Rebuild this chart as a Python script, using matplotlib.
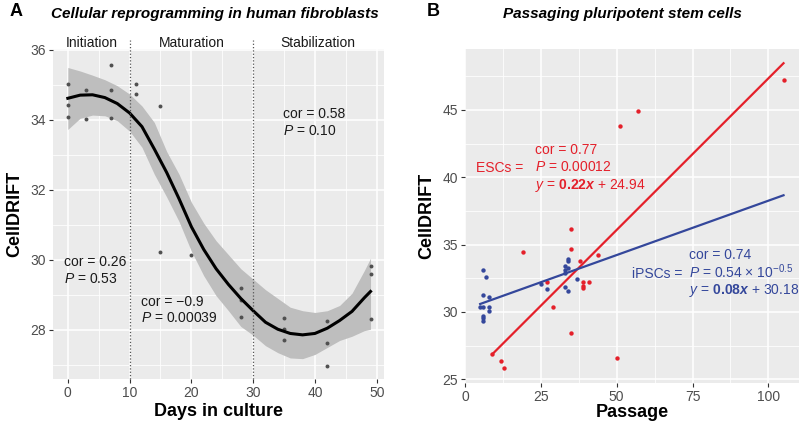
import numpy as np
import matplotlib
matplotlib.use("Agg")
import matplotlib.pyplot as plt

plt.rcParams['font.family'] = ['Liberation Sans', 'DejaVu Sans']
plt.rcParams['mathtext.fontset'] = 'custom'
plt.rcParams['mathtext.rm'] = 'Liberation Sans'
plt.rcParams['mathtext.it'] = 'Liberation Sans:italic'
plt.rcParams['mathtext.bf'] = 'Liberation Sans:bold'
plt.rcParams['mathtext.bfit'] = 'Liberation Sans:bold:italic'

# ---- panel A data: reprogramming time course ----
days = [0, 0, 0, 3, 3, 7, 7, 7, 11, 11, 15, 15, 20, 28, 28, 28,
        35, 35, 35, 42, 42, 42, 49, 49, 49]
drift_a = [35.03, 34.43, 34.09, 34.85, 34.03, 35.57, 34.86, 34.05, 35.03, 34.74,
           34.41, 30.24, 30.13, 29.19, 28.86, 28.37, 28.35, 28.03, 27.71,
           28.27, 27.62, 26.98, 29.83, 29.61, 28.31]

# loess fit
fit_day = [0, 2, 4, 6, 8, 10, 12, 14, 16, 18, 20, 22, 24, 26, 28, 30,
           32, 34, 36, 38, 40, 42, 44, 46, 48, 49]
fit_mid = [34.62, 34.71, 34.72, 34.64, 34.47, 34.20, 33.81, 33.17, 32.50, 31.75,
           30.95, 30.30, 29.75, 29.30, 28.90, 28.55, 28.22, 28.02, 27.90, 27.86,
           27.90, 28.05, 28.27, 28.53, 28.92, 29.10]
fit_hi = [35.50, 35.40, 35.28, 35.15, 34.98, 34.74, 34.40, 33.93, 33.10, 32.45,
          31.65, 31.05, 30.55, 30.15, 29.75, 29.45, 29.15, 28.90, 28.65, 28.55,
          28.50, 28.55, 28.70, 29.05, 29.70, 30.05]
fit_lo = [33.73, 34.05, 34.14, 34.12, 33.98, 33.68, 33.22, 32.45, 31.80, 31.10,
          30.25, 29.55, 28.98, 28.55, 28.10, 27.85, 27.55, 27.35, 27.20, 27.18,
          27.30, 27.50, 27.70, 27.82, 27.98, 28.02]

phases = ['Initiation', 'Maturation', 'Stabilization']
phase_breaks = [10, 30]

# ---- panel B data: passaging ----
esc_passage = [9, 12, 13, 19, 27, 29, 35, 35, 35, 38, 39, 41, 39, 39, 44, 50, 51, 57, 105]
esc_drift = [26.86, 26.34, 25.86, 34.43, 32.22, 30.39, 36.14, 34.67, 28.41, 33.76,
             32.22, 32.22, 31.93, 31.78, 34.25, 26.56, 43.80, 44.92, 47.22]
ipsc_passage = [6, 7, 6, 8, 5, 6, 8, 8, 6, 6, 6, 25, 27, 33, 34, 34, 34, 33, 33, 37, 33, 34]
ipsc_drift = [33.11, 32.62, 31.24, 31.09, 30.35, 30.35, 30.35, 30.10, 29.70, 29.53, 29.33,
              32.07, 31.73, 33.41, 33.29, 33.91, 33.78, 33.10, 32.90, 32.42, 31.83, 31.58]

esc_fit = (0.225, 24.84)    # slope, intercept
ipsc_fit = (0.0807, 30.19)
esc_range = (9, 105)
ipsc_range = (5, 105)

RED = '#E4202A'
BLUE = '#34479B'
BG = '#EBEBEB'


def gg_style(ax):
    ax.set_facecolor(BG)
    for s in ax.spines.values():
        s.set_visible(False)
    ax.grid(which='major', color='white', lw=1.1)
    ax.grid(which='minor', color='white', lw=0.55)
    ax.set_axisbelow(True)
    ax.tick_params(which='major', length=3, width=0.8, color='#333333',
                   labelcolor='#4D4D4D', labelsize=10, pad=2)
    ax.tick_params(which='minor', length=0)


fig = plt.figure(figsize=(8, 4.22), dpi=100)
W, H = 800, 422
axA = fig.add_axes([53 / W, (H - 379.3) / H, (383.5 - 53) / W, (379.3 - 49.3) / H])
axB = fig.add_axes([465 / W, (H - 382.7) / H, (798.7 - 465) / W, (382.7 - 48.6) / H])

# ---------- panel A ----------
gg_style(axA)
axA.set_xlim(-2.4, 51.1)
axA.set_ylim(26.59, 36.02)
axA.set_xticks([0, 10, 20, 30, 40, 50])
axA.set_xticks([5, 15, 25, 35, 45], minor=True)
axA.set_yticks([28, 30, 32, 34, 36])
axA.set_yticks([27, 29, 31, 33, 35], minor=True)

axA.fill_between(fit_day, fit_lo, fit_hi, color='#BEBEBE', lw=0, zorder=2)
axA.scatter(days, drift_a, s=8, color='#505050', lw=0, zorder=3)
axA.plot(fit_day, fit_mid, color='black', lw=2.2, zorder=4)

for b in phase_breaks:
    axA.plot([b, b], [0, 1.028], transform=axA.get_xaxis_transform(),
             color='#555555', ls=':', lw=0.9, clip_on=False, zorder=5)
edges = [axA.get_xlim()[0]] + phase_breaks + [axA.get_xlim()[1]]
for i, name in enumerate(phases):
    axA.text((edges[i] + edges[i + 1]) / 2, 1.02, name, transform=axA.get_xaxis_transform(),
             ha='center', va='center', fontsize=10, color='#1a1a1a')

axA.text(-0.6, 29.93, 'cor = 0.26', fontsize=10, va='center', ha='left', color='#1a1a1a')
axA.text(-0.6, 29.45, '$P$ = 0.53', fontsize=10, va='center', ha='left', color='#1a1a1a')
axA.text(11.9, 28.81, 'cor = \u22120.9', fontsize=10, va='center', ha='left', color='#1a1a1a')
axA.text(11.9, 28.33, '$P$ = 0.00039', fontsize=10, va='center', ha='left', color='#1a1a1a')
axA.text(34.8, 34.16, 'cor = 0.58', fontsize=10, va='center', ha='left', color='#1a1a1a')
axA.text(34.8, 33.69, '$P$ = 0.10', fontsize=10, va='center', ha='left', color='#1a1a1a')

axA.set_xlabel('Days in culture', fontsize=13, fontweight='bold', labelpad=2)
axA.set_ylabel('CellDRIFT', fontsize=13, fontweight='bold', labelpad=5)
fig.text(10 / W, 1 - 12 / H, 'A', fontsize=13, fontweight='bold', va='center', ha='left')
fig.text(215 / W, 1 - 14 / H, 'Cellular reprogramming in human fibroblasts',
         fontsize=11, fontweight='bold', fontstyle='italic', ha='center', va='center')

# ---------- panel B ----------
gg_style(axB)
axB.set_xlim(0, 110)
axB.set_ylim(24.75, 49.55)
axB.set_xticks([0, 25, 50, 75, 100])
axB.set_xticks([12.5, 37.5, 62.5, 87.5], minor=True)
axB.set_yticks([25, 30, 35, 40, 45])
axB.set_yticks([27.5, 32.5, 37.5, 42.5, 47.5], minor=True)

axB.scatter(ipsc_passage, ipsc_drift, s=10, color=BLUE, lw=0, zorder=3)
axB.scatter(esc_passage, esc_drift, s=10, color=RED, lw=0, zorder=3)
xe = np.array(esc_range)
xi = np.array(ipsc_range)
axB.plot(xe, esc_fit[0] * xe + esc_fit[1], color=RED, lw=1.6, zorder=4)
axB.plot(xi, ipsc_fit[0] * xi + ipsc_fit[1], color=BLUE, lw=1.6, zorder=4)

axB.text(23.0, 42.04, 'cor = 0.77', fontsize=10, color=RED, va='center')
axB.text(23.0, 40.78, '$P$ = 0.00012', fontsize=10, color=RED, va='center')
axB.text(23.0, 39.42, r'$y$ = $\mathbf{0.22}\mathbfit{x}$ + 24.94', fontsize=10, color=RED, va='center')
axB.text(19.3, 40.69, 'ESCs =', fontsize=10, color=RED, va='center', ha='right')

axB.text(74.0, 34.23, 'cor = 0.74', fontsize=10, color=BLUE, va='center')
axB.text(74.0, 32.97, '$P$ = 0.54 \u00d7 10$^{\u22120.5}$', fontsize=10, color=BLUE, va='center')
axB.text(74.0, 31.63, r'$y$ = $\mathbf{0.08}\mathbfit{x}$ + 30.18', fontsize=10, color=BLUE, va='center')
axB.text(71.5, 32.8, 'iPSCs =', fontsize=10, color=BLUE, va='center', ha='right')

axB.set_xlabel('Passage', fontsize=13, fontweight='bold', labelpad=0)
axB.set_ylabel('CellDRIFT', fontsize=13, fontweight='bold', labelpad=5)
fig.text(427 / W, 1 - 11 / H, 'B', fontsize=13, fontweight='bold', va='center', ha='left')
fig.text(622 / W, 1 - 14 / H, 'Passaging pluripotent stem cells',
         fontsize=11, fontweight='bold', fontstyle='italic', ha='center', va='center')

fig.savefig('out.png', dpi=100)
